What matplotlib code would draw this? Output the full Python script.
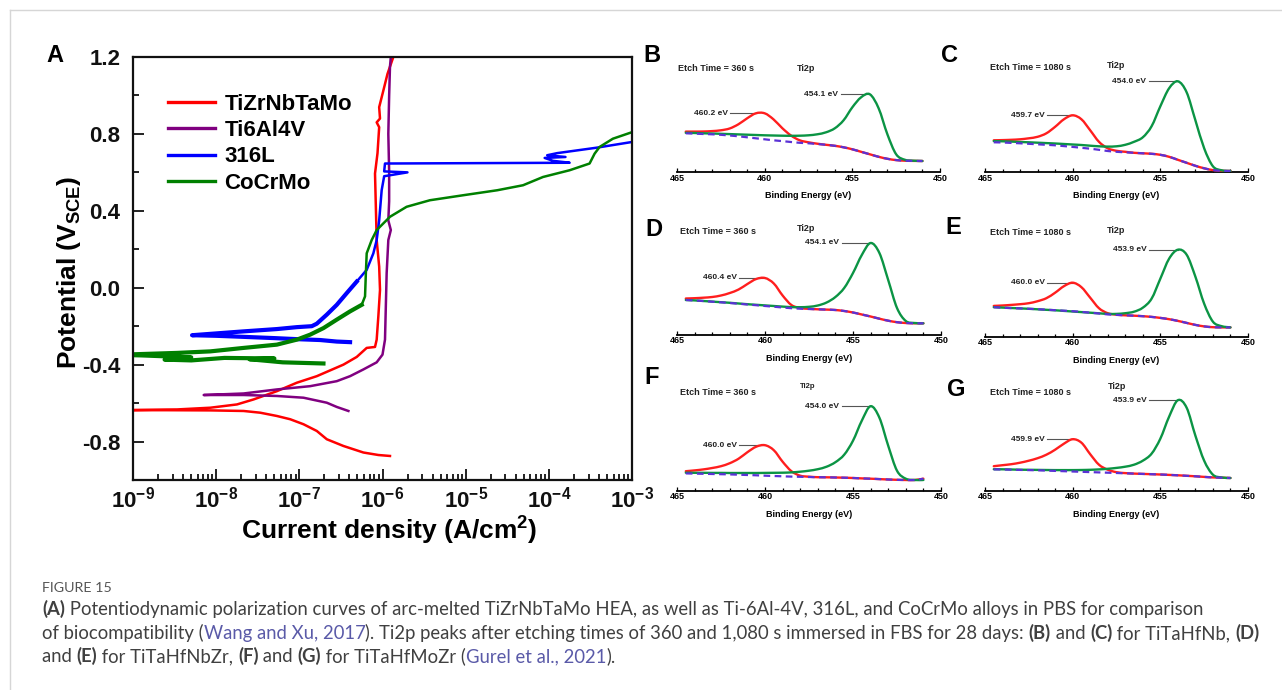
import numpy as np
import matplotlib
matplotlib.use('Agg')
import matplotlib.pyplot as plt
from matplotlib.ticker import FixedLocator, MultipleLocator, LogLocator, NullFormatter
from matplotlib.lines import Line2D
from matplotlib.font_manager import FontProperties
from matplotlib.path import Path
from matplotlib.patches import PathPatch

# ---------------- Panel A data (log10 current density, potential V_SCE) ----------------
series_names = ['TiZrNbTaMo', 'Ti6Al4V', '316L', 'CoCrMo']
series_colors = ['#ff0000', '#800080', '#0000ff', '#008000']

tizr_logi = [-5.91, -6.05, -6.23, -6.47, -6.67, -6.79, -6.95, -7.11, -7.27, -7.47, -7.67, -8.07, -8.6, -9.2,
             -8.47, -8.07, -7.75, -7.55, -7.27, -7.03, -6.79, -6.47, -6.31, -6.19,
             -6.09, -6.07, -6.05, -6.03, -6.04, -6.07, -6.09, -6.06, -6.04, -6.07,
             -6.03, -6.04, -5.99, -5.94, -5.87, -5.85]
tizr_E = [-0.875, -0.870, -0.857, -0.823, -0.788, -0.745, -0.710, -0.684, -0.667, -0.650, -0.641, -0.638, -0.637, -0.637,
          -0.633, -0.624, -0.607, -0.581, -0.538, -0.494, -0.460, -0.400, -0.360, -0.313,
          -0.308, -0.270, -0.149, -0.011, 0.110, 0.248, 0.594, 0.70, 0.835, 0.86,
          0.88, 0.939, 1.025, 1.112, 1.20, 1.23]

ti64_logi = [-6.41, -6.55, -6.67, -6.95, -7.27, -7.67, -8.15,
             -7.67, -7.27, -6.87, -6.55, -6.39, -6.23, -6.07, -6.00, -5.97, -5.96,
             -5.95, -5.93, -5.90, -5.93, -5.92, -5.92, -5.93, -5.92, -5.91, -5.90]
ti64_E = [-0.641, -0.620, -0.598, -0.572, -0.563, -0.558, -0.558,
          -0.550, -0.529, -0.512, -0.486, -0.460, -0.425, -0.388, -0.348, -0.270, -0.097,
          0.076, 0.248, 0.30, 0.35, 0.45, 0.60, 0.80, 1.00, 1.15, 1.20]

ss_logi = [-6.39, -6.55, -6.75, -7.0, -7.3, -7.7, -8.0, -8.29,
           -7.67, -7.27, -7.03, -6.85, -6.79, -6.67, -6.55, -6.43, -6.31, -6.19,
           -6.11, -6.07, -6.04, -6.01, -5.98, -5.70, -5.98, -5.97,
           -3.75, -3.95, -4.05, -3.80, -4.02, -3.90, -3.43, -3.00]
ss_E = [-0.283, -0.280, -0.272, -0.268, -0.262, -0.255, -0.250, -0.247,
        -0.227, -0.215, -0.205, -0.200, -0.187, -0.140, -0.089, -0.028, 0.032, 0.093,
        0.179, 0.248, 0.350, 0.507, 0.580, 0.600, 0.605, 0.646,
        0.650, 0.660, 0.675, 0.680, 0.689, 0.700, 0.728, 0.758]

ccm_logi = [-6.71, -7.2, -7.6, -7.3, -7.9, -8.3, -8.62, -8.3, -8.9, -9.2,
            -8.47, -8.07, -7.67, -7.27, -7.03, -6.87, -6.71, -6.55, -6.39, -6.25,
            -6.21, -6.20, -6.19, -6.13, -6.07, -5.91, -5.71, -5.43, -5.03, -4.62,
            -4.31, -4.07, -3.75, -3.51, -3.45, -3.39, -3.23, -3.00]
ccm_E = [-0.394, -0.388, -0.372, -0.368, -0.365, -0.378, -0.374, -0.362, -0.352, -0.349,
         -0.339, -0.331, -0.313, -0.296, -0.270, -0.244, -0.210, -0.166, -0.123, -0.089,
         -0.045, 0.076, 0.179, 0.248, 0.300, 0.369, 0.421, 0.455, 0.481, 0.507,
         0.533, 0.576, 0.611, 0.646, 0.697, 0.732, 0.775, 0.809]

# index ranges of the visibly noisy (thick) stretches of each curve
noisy_ranges = {'316L': (0, 17), 'CoCrMo': (0, 20)}

x_major = [1e-9, 1e-8, 1e-7, 1e-6, 1e-5, 1e-4, 1e-3]
x_tick_labels = [r'$10^{-9}$', r'$10^{-8}$', r'$10^{-7}$', r'$10^{-6}$', r'$10^{-5}$', r'$10^{-4}$', r'$10^{-3}$']
y_major = [-0.8, -0.4, 0.0, 0.4, 0.8, 1.2]
y_tick_labels = ['-0.8', '-0.4', '0.0', '0.4', '0.8', '1.2']

# ---------------- XPS data (Ti2p, arbitrary intensity) ----------------
xps_energy = [464.5, 464.0, 463.5, 463.0, 462.5, 462.0, 461.5, 461.0, 460.5, 460.0,
              459.5, 459.0, 458.5, 458.0, 457.5, 457.0, 456.5, 456.0, 455.5, 455.0,
              454.5, 454.0, 453.5, 453.0, 452.5, 452.0, 451.5, 451.0]
xps_ticks = [465, 460, 455, 450]
xps_tick_labels = ['465', '460', '455', '450']

B_red = [40.7, 40.7, 40.8, 41.2, 42.0, 43.8, 48.0, 54.0, 59.0, 59.0, 53.0, 44.2, 36.8, 32.0, 30.0, 28.6,
         27.5, 26.5, 25.0, 23.0, 20.5, 18.0, 15.5, 13.5, 12.2, 11.6, 11.4, 11.3]
B_bg = [39.0, 38.7, 38.3, 38.0, 37.5, 36.8, 36.0, 35.0, 34.0, 33.0, 32.0, 31.2, 30.3, 29.5, 29.0, 28.3,
        27.5, 26.5, 25.0, 23.0, 20.5, 18.0, 15.5, 13.5, 12.2, 11.6, 11.4, 11.3]
B_green = [39.5, 39.3, 39.0, 38.8, 38.5, 38.2, 37.9, 37.6, 37.3, 37.0, 36.8, 36.6, 36.5, 36.6, 37.0, 38.0,
           40.0, 44.0, 52.0, 65.0, 75.0, 78.0, 64.0, 38.0, 18.0, 12.5, 11.6, 11.3]

C_red = [32.0, 32.2, 32.5, 33.0, 34.0, 35.5, 39.0, 45.5, 53.0, 57.0, 53.0, 42.0, 30.5, 24.0, 21.5, 20.5,
         19.5, 19.0, 18.5, 17.5, 15.5, 12.5, 9.5, 6.5, 4.0, 2.2, 1.5, 1.3]
C_bg = [30.0, 29.8, 29.4, 29.0, 28.5, 28.0, 27.5, 27.0, 26.2, 25.4, 24.5, 23.6, 22.5, 21.3, 20.5, 20.0,
        19.5, 19.0, 18.5, 17.5, 15.5, 12.5, 9.5, 6.5, 4.0, 2.2, 1.5, 1.3]
C_green = [31.2, 31.0, 30.7, 30.3, 30.0, 29.6, 29.2, 28.8, 28.3, 27.8, 27.3, 26.6, 26.0, 25.7, 26.0, 27.5,
           30.5, 35.0, 46.0, 66.0, 84.0, 91.0, 80.0, 52.0, 24.0, 6.0, 2.0, 1.3]

D_red = [36.5, 36.8, 37.3, 38.0, 39.5, 42.0, 45.5, 51.0, 56.0, 57.0, 51.5, 39.5, 30.0, 27.0, 26.2, 25.7,
         25.4, 25.0, 24.0, 22.5, 20.5, 18.5, 16.3, 14.3, 12.8, 12.0, 11.7, 11.7]
D_bg = [35.0, 34.5, 34.0, 33.3, 32.7, 32.0, 31.3, 30.5, 29.8, 29.0, 28.3, 27.5, 26.8, 26.3, 26.0, 25.7,
        25.4, 25.0, 24.0, 22.5, 20.5, 18.5, 16.3, 14.3, 12.8, 12.0, 11.7, 11.7]
D_green = [35.0, 34.6, 34.0, 33.4, 32.8, 32.2, 31.5, 30.8, 30.2, 29.6, 29.0, 28.4, 27.9, 27.8, 28.2, 29.5,
           32.5, 38.0, 47.0, 62.0, 80.0, 92.0, 82.0, 55.0, 27.0, 14.0, 12.0, 11.7]

E_red = [30.8, 31.2, 31.8, 32.5, 33.5, 35.5, 38.5, 44.0, 50.5, 54.0, 49.5, 39.0, 28.5, 23.5, 22.0, 21.4,
         21.0, 20.5, 19.8, 18.8, 17.5, 15.8, 13.8, 11.8, 10.3, 9.5, 9.3, 9.3]
E_bg = [29.5, 29.0, 28.6, 28.3, 27.9, 27.5, 27.0, 26.5, 26.0, 25.5, 24.8, 24.0, 23.2, 22.3, 21.8, 21.4,
        21.0, 20.5, 19.8, 18.8, 17.5, 15.8, 13.8, 11.8, 10.3, 9.5, 9.3, 9.3]
E_green = [29.5, 29.1, 28.7, 28.3, 27.9, 27.4, 26.9, 26.4, 25.8, 25.2, 24.6, 24.0, 23.4, 22.8, 22.8, 23.5,
           25.0, 29.0, 38.0, 58.0, 78.0, 87.0, 82.0, 60.0, 33.0, 15.0, 10.5, 9.3]

F_red = [19.5, 20.3, 21.3, 22.7, 24.5, 27.5, 32.0, 38.5, 44.0, 45.5, 40.5, 29.0, 19.5, 15.0, 14.0, 13.5,
         13.4, 13.2, 13.0, 12.7, 12.3, 12.0, 11.6, 11.2, 10.9, 10.7, 10.7, 12.0]
F_bg = [17.3, 17.1, 16.9, 16.7, 16.5, 16.3, 16.0, 15.7, 15.4, 15.0, 14.7, 14.4, 14.1, 13.9, 13.7, 13.5,
        13.4, 13.2, 13.0, 12.7, 12.3, 12.0, 11.6, 11.2, 10.9, 10.7, 10.7, 12.0]
F_green = [18.0, 17.9, 17.9, 17.8, 17.8, 17.7, 17.7, 17.7, 17.7, 17.8, 17.9, 18.0, 18.3, 19.0, 20.0, 21.5,
           24.0, 28.5, 36.0, 50.0, 70.0, 84.5, 73.0, 45.0, 20.0, 12.0, 10.7, 10.7]

G_red = [24.5, 25.5, 26.5, 28.0, 30.0, 32.5, 36.0, 41.0, 47.0, 51.5, 48.0, 36.5, 26.0, 21.0, 18.5, 17.6,
         17.1, 16.8, 16.5, 16.2, 15.8, 15.4, 14.9, 14.4, 13.8, 13.3, 13.0, 12.7]
G_bg = [21.3, 21.2, 21.0, 20.8, 20.6, 20.4, 20.1, 19.8, 19.5, 19.2, 18.9, 18.6, 18.3, 18.0, 17.7, 17.4,
        17.1, 16.8, 16.5, 16.2, 15.8, 15.4, 14.9, 14.4, 13.8, 13.3, 13.0, 12.7]
G_green = [21.5, 21.4, 21.2, 21.0, 20.9, 20.8, 20.7, 20.6, 20.6, 20.6, 20.7, 20.9, 21.3, 21.9, 22.8, 24.0,
           26.0, 30.0, 37.0, 52.0, 74.0, 90.5, 83.0, 55.0, 30.0, 16.0, 13.2, 12.7]

etch_labels = {'B': 'Etch Time = 360 s', 'C': 'Etch Time = 1080 s', 'D': 'Etch Time = 360 s',
               'E': 'Etch Time = 1080 s', 'F': 'Etch Time = 360 s', 'G': 'Etch Time = 1080 s'}
green_peak_labels = {'B': '454.1 eV', 'C': '454.0 eV', 'D': '454.1 eV', 'E': '453.9 eV', 'F': '454.0 eV', 'G': '453.9 eV'}
red_peak_labels = {'B': '460.2 eV', 'C': '459.7 eV', 'D': '460.4 eV', 'E': '460.0 eV', 'F': '460.0 eV', 'G': '459.9 eV'}
xps_series = {'B': (B_red, B_green, B_bg), 'C': (C_red, C_green, C_bg), 'D': (D_red, D_green, D_bg),
              'E': (E_red, E_green, E_bg), 'F': (F_red, F_green, F_bg), 'G': (G_red, G_green, G_bg)}

caption_title = 'FIGURE 15'
caption_lines = [
    [('(A)', 'b'), (' Potentiodynamic polarization curves of arc-melted TiZrNbTaMo HEA, as well as Ti-6Al-4V, 316L, and CoCrMo alloys in PBS for comparison', 'n')],
    [('of biocompatibility (', 'n'), ('Wang and Xu, 2017', 'l'),
     ('). Ti2p peaks after etching times of 360 and 1,080 s immersed in FBS for 28 days: ', 'n'),
     ('(B)', 'b'), (' and ', 'n'), ('(C)', 'b'), (' for TiTaHfNb, ', 'n'), ('(D)', 'b')],
    [('and ', 'n'), ('(E)', 'b'), (' for TiTaHfNbZr, ', 'n'), ('(F)', 'b'), (' and ', 'n'), ('(G)', 'b'),
     (' for TiTaHfMoZr (', 'n'), ('Gurel et al., 2021', 'l'), (').', 'n')],
]

# ---------------- styling ----------------
plt.rcParams['font.family'] = ['Liberation Sans', 'DejaVu Sans']
plt.rcParams['mathtext.fontset'] = 'custom'
plt.rcParams['mathtext.rm'] = 'Liberation Sans:bold'
plt.rcParams['mathtext.it'] = 'Liberation Sans:bold'
plt.rcParams['mathtext.bf'] = 'Liberation Sans:bold'
plt.rcParams['mathtext.sf'] = 'Liberation Sans:bold'
plt.rcParams['mathtext.default'] = 'rm'

W, H, DPI = 1282, 690, 100
fig = plt.figure(figsize=(W / DPI, H / DPI), dpi=DPI)
fig.patch.set_facecolor('white')

fig.add_artist(Line2D([10 / W, 1.0], [1 - 10 / H, 1 - 10 / H], transform=fig.transFigure, color='#d6d6d6', lw=1.0))
fig.add_artist(Line2D([10 / W, 10 / W], [0, 1 - 10 / H], transform=fig.transFigure, color='#d6d6d6', lw=1.0))


def px_axes(l, r, t, b):
    return fig.add_axes([l / W, 1 - b / H, (r - l) / W, (b - t) / H])


def smooth_path(x, y):
    """Catmull-Rom style cubic Bezier path through the given points (rendering only)."""
    x = np.asarray(x, float)
    y = np.asarray(y, float)
    n = len(x)
    verts = [(x[0], y[0])]
    codes = [Path.MOVETO]
    for i in range(n - 1):
        i0 = max(i - 1, 0)
        i3 = min(i + 2, n - 1)
        c1 = (x[i] + (x[i + 1] - x[i0]) / 6.0, y[i] + (y[i + 1] - y[i0]) / 6.0)
        c2 = (x[i + 1] - (x[i3] - x[i]) / 6.0, y[i + 1] - (y[i3] - y[i]) / 6.0)
        verts += [c1, c2, (x[i + 1], y[i + 1])]
        codes += [Path.CURVE4] * 3
    return Path(verts, codes)


# ---------------- Panel A ----------------
axA = px_axes(133, 632, 57, 480)
curves = [(tizr_logi, tizr_E), (ti64_logi, ti64_E), (ss_logi, ss_E), (ccm_logi, ccm_E)]
handles = []
for (lg, e), c, name in zip(curves, series_colors, series_names):
    cur = 10 ** np.asarray(lg)
    h, = axA.plot(cur, e, color=c, lw=1.8, label=name)
    handles.append(h)
    if name in noisy_ranges:
        a, b = noisy_ranges[name]
        axA.plot(cur[a:b], e[a:b], color=c, lw=3.0, solid_joinstyle='round')
axA.set_xscale('log')
axA.set_xlim(1e-9, 1e-3)
axA.set_ylim(-1.0, 1.2)
axA.xaxis.set_major_locator(FixedLocator(x_major))
axA.set_xticklabels(x_tick_labels)
axA.xaxis.set_minor_locator(LogLocator(base=10, subs=np.arange(2, 10), numticks=30))
axA.xaxis.set_minor_formatter(NullFormatter())
axA.yaxis.set_major_locator(FixedLocator(y_major))
axA.set_yticklabels(y_tick_labels)
axA.yaxis.set_minor_locator(MultipleLocator(0.2))
axA.tick_params(which='both', direction='in', top=False, right=False, width=1.3, colors='#111111')
axA.tick_params(which='major', length=8, labelsize=16)
axA.tick_params(axis='y', which='major', pad=9)
axA.tick_params(axis='x', which='major', pad=5)
axA.tick_params(which='minor', length=4.5)
for t in axA.get_yticklabels():
    t.set_fontweight('bold')
for sp in axA.spines.values():
    sp.set_linewidth(1.6)
    sp.set_color('#111111')
axA.set_ylabel(r'Potential (V$_{\rm SCE}$)', fontsize=19, fontweight='bold')
axA.yaxis.set_label_coords(-0.100, 0.49)
axA.set_xlabel(r'Current density (A/cm$^{\rm 2}$)', fontsize=19, fontweight='bold')
axA.xaxis.set_label_coords(0.514, -0.082)
leg = axA.legend(handles, series_names, loc='upper left', bbox_to_anchor=(0.070, 0.913), frameon=False,
                 prop=FontProperties(family='Liberation Sans', weight='bold', size=16),
                 handlelength=2.1, handletextpad=0.45, labelspacing=0.24, borderpad=0, borderaxespad=0)
for ln in leg.get_lines():
    ln.set_linewidth(2.4)

fig.text(55 / W, 1 - 55 / H, 'A', fontsize=17, fontweight='bold', ha='center', va='center')

# ---------------- XPS panels ----------------
XPS_RED = '#ff1e1e'
XPS_GREEN = '#0b9444'
XPS_BG = '#5b32d6'
layout = {
    'B': dict(box=(677, 940, 172.3), letter=(652, 56), etch=(464.94, 104), ti=(458.15, 104), ti_size=6.5),
    'C': dict(box=(985, 1248, 172.3), letter=(950, 55), etch=(464.7, 105), ti=(458.04, 107), ti_size=6.5),
    'D': dict(box=(677, 941, 335.0), letter=(654, 230), etch=(464.83, 103), ti=(458.2, 106), ti_size=6.5),
    'E': dict(box=(985, 1248, 336.7), letter=(953, 228), etch=(464.7, 104.5), ti=(458.06, 106.5), ti_size=6.5),
    'F': dict(box=(677, 941, 490.7), letter=(652, 378), etch=(464.83, 98), ti=(458.0, 104), ti_size=5.5),
    'G': dict(box=(985, 1248, 490.7), letter=(956, 389), etch=(464.7, 98), ti=(457.97, 104), ti_size=6.5),
}
AX_H = 112
for key, lay in layout.items():
    red, green, bg = xps_series[key]
    l, r, spine = lay['box']
    ax = px_axes(l, r, spine - AX_H, spine)
    ax.set_xlim(465, 450)
    ax.set_ylim(0, AX_H)
    ax.add_patch(PathPatch(smooth_path(xps_energy, red), facecolor='none', edgecolor=XPS_RED,
                           lw=1.7, zorder=3, capstyle='round'))
    ax.add_patch(PathPatch(smooth_path(xps_energy, green), facecolor='none', edgecolor=XPS_GREEN,
                           lw=1.7, zorder=3, capstyle='round'))
    ax.add_patch(PathPatch(smooth_path(xps_energy, bg), facecolor='none', edgecolor=XPS_BG,
                           lw=1.6, ls=(0, (3, 2)), zorder=4))
    for sp in ['left', 'right', 'top']:
        ax.spines[sp].set_visible(False)
    ax.spines['bottom'].set_linewidth(1.3)
    ax.set_yticks([])
    ax.xaxis.set_major_locator(FixedLocator(xps_ticks))
    ax.set_xticklabels(xps_tick_labels)
    ax.xaxis.set_minor_locator(MultipleLocator(1))
    ax.tick_params(axis='x', which='both', direction='in', width=0.9, pad=1.0, labelsize=6.5)
    ax.tick_params(axis='x', which='major', length=3)
    ax.tick_params(axis='x', which='minor', length=2)
    for t in ax.get_xticklabels():
        t.set_fontweight('bold')
    ax.set_xlabel('Binding Energy (eV)', fontsize=6.5, fontweight='bold')
    ax.xaxis.set_label_coords(0.5, -19.0 / AX_H)
    ax.text(lay['etch'][0], lay['etch'][1], etch_labels[key], fontsize=6.5, fontweight='bold',
            ha='left', va='center', color='#222222')
    ax.text(lay['ti'][0], lay['ti'][1], 'Ti2p', fontsize=lay['ti_size'], fontweight='bold',
            ha='left', va='center', color='#222222')
    for curve, lab, L in [(green, green_peak_labels[key], 1.65), (red, red_peak_labels[key], 1.45)]:
        i = int(np.argmax(curve))
        ep, yp = xps_energy[i], curve[i]
        ax.plot([ep + L, ep], [yp, yp], color='#555555', lw=0.8, zorder=2)
        ax.text(ep + L + 0.15, yp, lab, ha='right', va='center', fontsize=6, fontweight='bold', color='#222222')
    fig.text(lay['letter'][0] / W, 1 - lay['letter'][1] / H, key, fontsize=17, fontweight='bold',
             ha='center', va='center')

# ---------------- caption ----------------
renderer = fig.canvas.get_renderer()
CAP_FONT = ['Lato', 'Open Sans', 'DejaVu Sans']
CAP_COLOR = '#404040'
LINK_COLOR = '#5a5aa8'


def prop_for(style, size):
    return FontProperties(family=CAP_FONT, size=size, weight='bold' if style == 'b' else 'normal')


def seg_w(s, prop):
    w1, _, _ = renderer.get_text_width_height_descent('l' + s + 'l', prop, ismath=False)
    w2, _, _ = renderer.get_text_width_height_descent('ll', prop, ismath=False)
    return w1 - w2


def line_w(segs, size):
    return sum(seg_w(s, prop_for(st, size)) for s, st in segs)


base = 12.0
cap_size = base * (1215.0 / line_w(caption_lines[1], base))


def draw_line(segs, x0, y, size):
    x = x0
    for s, st in segs:
        p = prop_for(st, size)
        fig.text(x / W, 1 - y / H, s, fontproperties=p, color=LINK_COLOR if st == 'l' else CAP_COLOR,
                 ha='left', va='baseline')
        x += seg_w(s, p)
    return x


tprop = FontProperties(family=CAP_FONT, size=11)
t_size = 11 * (70.0 / seg_w(caption_title, tprop))
fig.text(42 / W, 1 - 592 / H, caption_title, fontproperties=FontProperties(family=CAP_FONT, size=t_size),
         color='#555555', ha='left', va='baseline')
for segs, yb in zip(caption_lines, [615, 639, 662]):
    draw_line(segs, 42, yb, cap_size)

fig.savefig('out.png', dpi=DPI, facecolor='white')
